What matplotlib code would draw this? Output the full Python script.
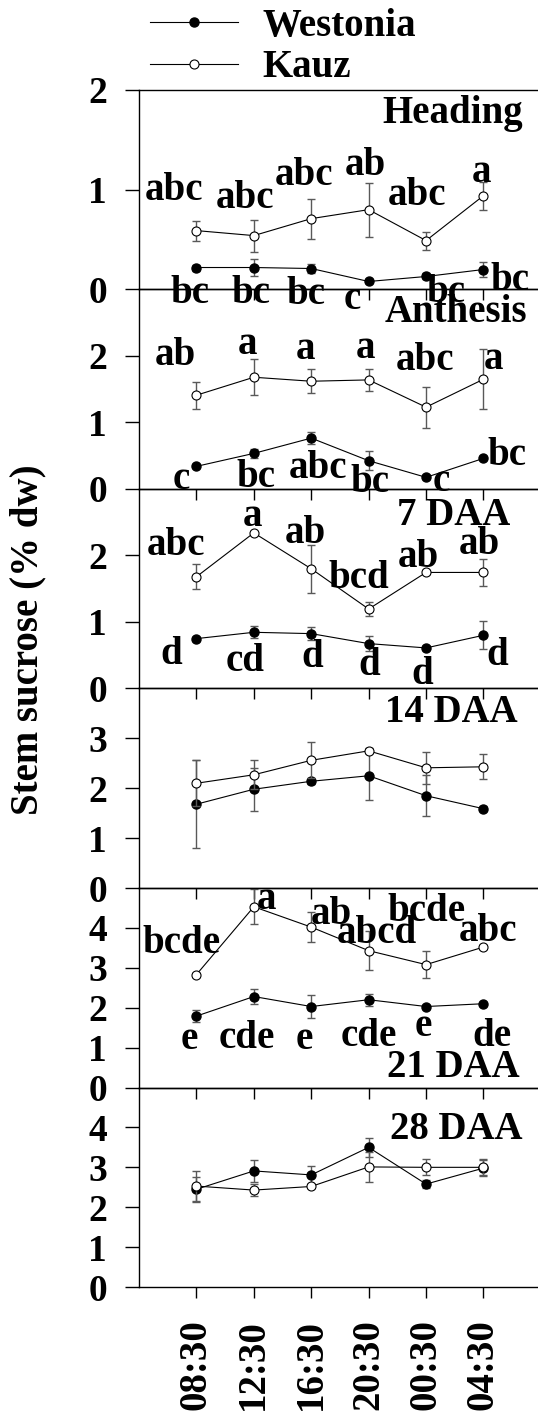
import matplotlib
matplotlib.use("Agg")
import matplotlib.pyplot as plt
from matplotlib.lines import Line2D

plt.rcParams["font.family"] = ["Liberation Serif", "DejaVu Serif"]
plt.rcParams["font.weight"] = "bold"

# ---- data ----
times = ["08:30", "12:30", "16:30", "20:30", "00:30", "04:30"]
stages = ["Heading", "Anthesis", "7 DAA", "14 DAA", "21 DAA", "28 DAA"]

heading_w = [0.22, 0.22, 0.21, 0.08, 0.13, 0.20]
heading_w_err = [0.03, 0.09, 0.05, 0.02, 0.03, 0.08]
heading_k = [0.59, 0.54, 0.71, 0.80, 0.49, 0.94]
heading_k_err = [0.10, 0.16, 0.20, 0.27, 0.09, 0.14]

anthesis_w = [0.34, 0.535, 0.765, 0.425, 0.175, 0.46]
anthesis_w_err = [0.03, 0.07, 0.09, 0.14, 0.03, 0.03]
anthesis_k = [1.41, 1.68, 1.62, 1.64, 1.23, 1.65]
anthesis_k_err = [0.20, 0.27, 0.18, 0.16, 0.31, 0.45]

daa7_w = [0.75, 0.845, 0.825, 0.675, 0.61, 0.80]
daa7_w_err = [0.03, 0.09, 0.10, 0.11, 0.03, 0.21]
daa7_k = [1.68, 2.34, 1.80, 1.195, 1.745, 1.745]
daa7_k_err = [0.19, 0.03, 0.36, 0.10, 0.03, 0.20]

daa14_w = [1.68, 1.98, 2.14, 2.25, 1.85, 1.59]
daa14_w_err = [0.88, 0.43, 0.05, 0.49, 0.41, 0.05]
daa14_k = [2.10, 2.27, 2.56, 2.75, 2.41, 2.43]
daa14_k_err = [0.46, 0.29, 0.36, 0.05, 0.32, 0.25]

daa21_w = [1.79, 2.28, 2.03, 2.20, 2.03, 2.10]
daa21_w_err = [0.16, 0.18, 0.30, 0.15, 0.05, 0.05]
daa21_k = [2.83, 4.53, 4.02, 3.43, 3.08, 3.52]
daa21_k_err = [0.05, 0.44, 0.37, 0.49, 0.33, 0.05]

daa28_w = [2.45, 2.91, 2.81, 3.50, 2.58, 2.98]
daa28_w_err = [0.31, 0.27, 0.23, 0.23, 0.10, 0.20]
daa28_k = [2.53, 2.43, 2.52, 3.01, 3.00, 3.00]
daa28_k_err = [0.38, 0.16, 0.05, 0.37, 0.20, 0.20]

# significance letters
heading_w_let = ["bc", "bc", "bc", "c", "bc", "bc"]
heading_k_let = ["abc", "abc", "abc", "ab", "abc", "a"]
anthesis_w_let = ["c", "bc", "abc", "bc", "c", "bc"]
anthesis_k_let = ["ab", "a", "a", "a", "abc", "a"]
daa7_w_let = ["d", "cd", "d", "d", "d", "d"]
daa7_k_let = ["abc", "a", "ab", "bcd", "ab", "ab"]
daa21_w_let = ["e", "cde", "e", "cde", "e", "de"]
daa21_k_let = ["bcde", "a", "ab", "abcd", "bcde", "abc"]

# ---- layout: letter offsets from the point (pixels) ----
heading_w_off = [(-6, -35), (-3, -35), (-5, -35), (-16, -28), (20, -26), (26, -20)]
heading_k_off = [(-22, 31), (-9, 28), (-7, 34), (-3, 35), (-9, 36), (-2, 14)]
anthesis_w_off = [(-15, -23), (2, -34), (7, -40), (1, -31), (15, -14), (23, -7)]
anthesis_k_off = [(-21, 30), (-6, 23), (-6, 22), (-3, 22), (-1, 37), (10, 10)]
daa7_w_off = [(-25, -25), (-9, -39), (1, -33), (1, -31), (-4, -36), (14, -30)]
daa7_k_off = [(-20, 22), (-1, 7), (-6, 26), (-10, 21), (-8, 5), (-4, 18)]
daa21_w_off = [(-7, -33), (-7, -51), (-7, -42), (0, -46), (-3, -29), (8, -42)]
daa21_k_off = [(-15, 22), (13, -2), (20, 3), (8, 8), (0, 44), (5, 6)]

panels = [
    (heading_w, heading_w_err, heading_k, heading_k_err, 2, [0, 1, 2],
     heading_w_let, heading_w_off, heading_k_let, heading_k_off, (0.962, 0.835)),
    (anthesis_w, anthesis_w_err, anthesis_k, anthesis_k_err, 3, [0, 1, 2],
     anthesis_w_let, anthesis_w_off, anthesis_k_let, anthesis_k_off, (0.972, 0.835)),
    (daa7_w, daa7_w_err, daa7_k, daa7_k_err, 3, [0, 1, 2],
     daa7_w_let, daa7_w_off, daa7_k_let, daa7_k_off, (0.930, 0.82)),
    (daa14_w, daa14_w_err, daa14_k, daa14_k_err, 4, [0, 1, 2, 3],
     None, None, None, None, (0.950, 0.83)),
    (daa21_w, daa21_w_err, daa21_k, daa21_k_err, 5, [0, 1, 2, 3, 4],
     daa21_w_let, daa21_w_off, daa21_k_let, daa21_k_off, (0.955, 0.055)),
    (daa28_w, daa28_w_err, daa28_k, daa28_k_err, 5, [0, 1, 2, 3, 4],
     None, None, None, None, (0.960, 0.74)),
]

x = list(range(1, len(times) + 1))
FS = 28
MS = 6.5

fig, axes = plt.subplots(6, 1, figsize=(5.38, 14.12), dpi=100, sharex=True)
fig.subplots_adjust(left=0.2584, right=1.0, top=0.9363, bottom=0.0885, hspace=0)

for ax, stage, p in zip(axes, stages, panels):
    w, w_err, k, k_err, ytop, yticks, w_let, w_off, k_let, k_off, lab_pos = p
    ax.patch.set_visible(False)

    ax.errorbar(x, w, yerr=w_err, fmt="none", ecolor="0.35", elinewidth=1, capsize=3, capthick=1)
    ax.plot(x, w, "-o", color="black", lw=0.8, ms=MS, mfc="black", mec="black")
    ax.errorbar(x, k, yerr=k_err, fmt="none", ecolor="0.35", elinewidth=1, capsize=3, capthick=1)
    ax.plot(x, k, "-o", color="black", lw=0.8, ms=MS, mfc="white", mec="black", mew=0.8)

    if w_let is not None:
        for xi, yi, t, (dx, dy) in zip(x, w, w_let, w_off):
            ax.annotate(t, (xi, yi), xytext=(dx, dy), textcoords="offset pixels",
                        ha="center", va="baseline", fontsize=FS, fontweight="bold")
        for xi, yi, t, (dx, dy) in zip(x, k, k_let, k_off):
            ax.annotate(t, (xi, yi), xytext=(dx, dy), textcoords="offset pixels",
                        ha="center", va="baseline", fontsize=FS, fontweight="bold")

    ax.text(lab_pos[0], lab_pos[1], stage, transform=ax.transAxes, ha="right",
            va="baseline", fontsize=FS, fontweight="bold")

    ax.set_ylim(0, ytop)
    ax.set_yticks(yticks)
    ax.set_xlim(0, 6.95)
    ax.set_xticks(x)
    ax.spines["right"].set_visible(False)
    for s in ["left", "top", "bottom"]:
        ax.spines[s].set_linewidth(1)
    ax.tick_params(axis="y", direction="out", length=10, width=1, pad=13, labelsize=27)
    ax.tick_params(axis="x", direction="out", length=8, width=1, top=False)

axes[-1].set_xticklabels(times, rotation=90, fontsize=FS, fontweight="bold")
axes[-1].tick_params(axis="x", pad=15)

fig.text(28 / 538, 1 - 640 / 1412, "Stem sucrose (% dw)", rotation=90,
         ha="center", va="center", fontsize=FS, fontweight="bold")

handles = [
    Line2D([], [], color="black", lw=0.8, marker="o", ms=MS, mfc="black", mec="black"),
    Line2D([], [], color="black", lw=0.8, marker="o", ms=MS, mfc="white", mec="black", mew=0.8),
]
fig.legend(handles, ["Westonia", "Kauz"], loc="upper left", bbox_to_anchor=(150 / 538, 0.9945),
           frameon=False, prop={"weight": "bold", "size": FS}, borderpad=0,
           borderaxespad=0, handlelength=2.25, handletextpad=0.64, labelspacing=0.12, numpoints=1)

fig.savefig("out.png", dpi=100)
